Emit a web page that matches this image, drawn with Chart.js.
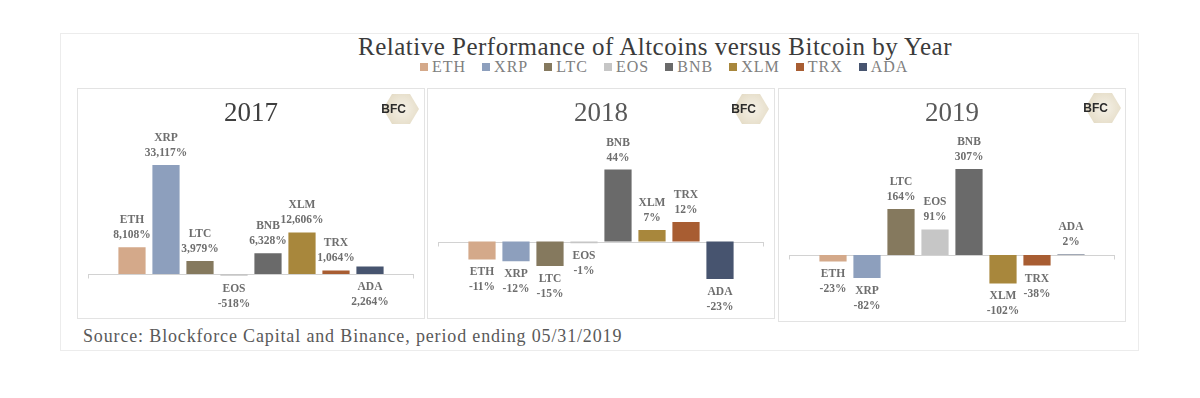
<!DOCTYPE html>
<html>
<head>
<meta charset="utf-8">
<script src="https://cdn.jsdelivr.net/npm/chart.js@4"></script>
<style>
  body { margin: 0; background: #fff; width: 1200px; height: 398px; position: relative; font-family: "Liberation Serif", serif; }
  #frame { position: absolute; left: 60px; top: 33px; width: 1077px; height: 316px; border: 1px solid #ececec; }
  #title { position: absolute; left: 305px; top: 32px; width: 700px; text-align: center; font-size: 25px; line-height: 30px; color: #3b3b3b; letter-spacing: 0.5px; }
  #legend { position: absolute; left: 420px; top: 59px; display: flex; font-size: 16px; line-height: 16px; color: #808080; letter-spacing: 1px; }
  #legend .item { display: flex; align-items: center; margin-right: 16px; }
  #legend .box { width: 8px; height: 8px; margin-right: 4px; }
  .panel { position: absolute; border: 1px solid #e3e3e3; background: #fff; }
  .panel canvas { position: absolute; left: 0; top: 0; }
  .hex { position: absolute; width: 36px; height: 30px; background: radial-gradient(circle at 55% 50%, #f5f1e7 0%, #e7dfcb 65%, #dacfb3 100%);
         clip-path: polygon(25% 0, 75% 0, 100% 50%, 75% 100%, 25% 100%, 0 50%); }
  .bfc { position: absolute; font: bold 12px "Liberation Sans", sans-serif; color: #2b2b2b; }
  #source { position: absolute; left: 83px; top: 326px; font-size: 18px; color: #595959; letter-spacing: 0.85px; }
</style>
</head>
<body>
<div id="frame"></div>
<div id="title">Relative Performance of Altcoins versus Bitcoin by Year</div>
<div id="legend"></div>

<div class="panel" style="left:77px; top:88px; width:346px; height:229px;">
  <canvas id="chart2017" width="346" height="229"></canvas>
  <div class="hex" style="right:5px; top:5px;"></div><div class="bfc" style="right:18px; top:13px;">BFC</div>
</div>
<div class="panel" style="left:427px; top:88px; width:346px; height:229px;">
  <canvas id="chart2018" width="346" height="229"></canvas>
  <div class="hex" style="right:5px; top:5px;"></div><div class="bfc" style="right:18px; top:13px;">BFC</div>
</div>
<div class="panel" style="left:778px; top:88px; width:346px; height:232px;">
  <canvas id="chart2019" width="346" height="232"></canvas>
  <div class="hex" style="right:4px; top:4px;"></div><div class="bfc" style="right:17px; top:12px;">BFC</div>
</div>

<div id="source">Source: Blockforce Capital and Binance, period ending 05/31/2019</div>

<script>
var coins = ['ETH', 'XRP', 'LTC', 'EOS', 'BNB', 'XLM', 'TRX', 'ADA'];
var coinColors = ['#d4a98a', '#8d9fbd', '#85795e', '#c6c6c6', '#6a6a6a', '#a8873c', '#a85d32', '#47546f'];
var perf2017 = [8108, 33117, 3979, -518, 6328, 12606, 1064, 2264];
var perf2018 = [-11, -12, -15, -1, 44, 7, 12, -23];
var perf2019 = [-23, -82, 164, 91, 307, -102, -38, 2];

// legend across the top
var legend = document.getElementById('legend');
coins.forEach(function (c, i) {
    var item = document.createElement('div');
    item.className = 'item';
    item.innerHTML = '<span class="box" style="background:' + coinColors[i] + '"></span>' + c;
    legend.appendChild(item);
});

// zero line with little end ticks, a bit wider than the bars
var zeroAxis = {
    id: 'zeroAxis',
    beforeDatasetsDraw: function (chart) {
        var a = chart.chartArea, ctx = chart.ctx;
        var y = Math.round(chart.scales.y.getPixelForValue(0)) + 0.5;
        var l = a.left - 27, r = a.right + 27;
        ctx.save();
        ctx.strokeStyle = '#d2d2d2';
        ctx.lineWidth = 1;
        ctx.beginPath();
        ctx.moveTo(l, y); ctx.lineTo(r, y);
        ctx.moveTo(l + 0.5, y); ctx.lineTo(l + 0.5, y + 4);
        ctx.moveTo(r - 0.5, y); ctx.lineTo(r - 0.5, y + 4);
        ctx.stroke();
        ctx.restore();
    }
};

// coin name + value over (or under) each bar
var barLabels = {
    id: 'barLabels',
    afterDatasetsDraw: function (chart, args, opts) {
        var ctx = chart.ctx;
        var meta = chart.getDatasetMeta(0);
        var values = chart.data.datasets[0].data;
        var zero = chart.scales.y.getPixelForValue(0);
        var below = opts.below || [];
        ctx.save();
        ctx.font = 'bold 11.5px "Liberation Serif"';
        ctx.fillStyle = '#6e6e6e';
        ctx.textAlign = 'center';
        ctx.textBaseline = 'middle';
        meta.data.forEach(function (bar, i) {
            var v = values[i];
            var name = chart.data.labels[i];
            var text = v.toLocaleString('en-US') + '%';
            if (v < 0 || below.indexOf(name) >= 0) {
                var y = Math.max(bar.y, zero);
                ctx.fillText(name, bar.x, y + 13);
                ctx.fillText(text, bar.x, y + 28);
            } else {
                ctx.fillText(text, bar.x, bar.y - 12);
                ctx.fillText(name, bar.x, bar.y - 27);
            }
        });
        ctx.restore();
    }
};

function makeChart(id, year, values, yMin, yMax, titleColor, below, padBottom) {
    var ctx = document.getElementById(id).getContext('2d');
    return new Chart(ctx, {
        type: 'bar',
        data: {
            labels: coins,
            datasets: [{
                data: values,
                backgroundColor: coinColors,
                barPercentage: 0.8,
                categoryPercentage: 1
            }]
        },
        options: {
            responsive: false,
            animation: false,
            layout: { padding: { left: 37, right: 37, top: 0, bottom: padBottom } },
            scales: {
                x: { display: false },
                y: { display: false, min: yMin, max: yMax }
            },
            plugins: {
                legend: { display: false },
                tooltip: { enabled: false },
                title: {
                    display: true,
                    text: year,
                    color: titleColor,
                    font: { family: 'Liberation Serif', size: 27, weight: 'normal' },
                    padding: { top: 9, bottom: 0 }
                },
                barLabels: { below: below }
            }
        },
        plugins: [zeroAxis, barLabels]
    });
}

makeChart('chart2017', '2017', perf2017, -8500, 43600, '#3f3f3f', ['ADA'], 16);
makeChart('chart2018', '2018', perf2018, -37, 68, '#595959', [], 16);
makeChart('chart2019', '2019', perf2019, -168, 445, '#595959', [], 19);
</script>
</body>
</html>
